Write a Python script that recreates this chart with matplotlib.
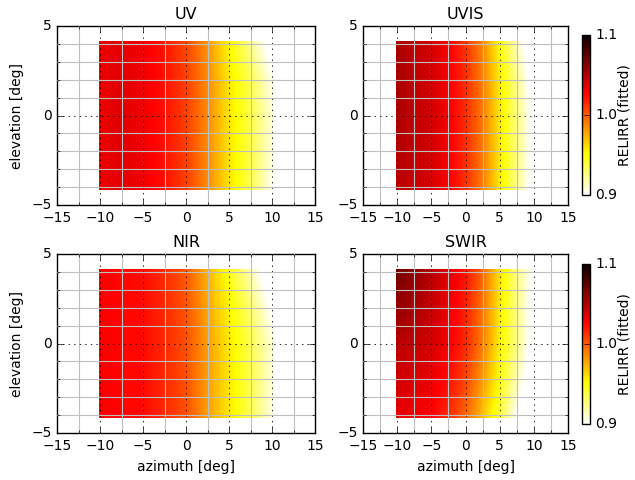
import numpy as np
import matplotlib
matplotlib.use('Agg')
import matplotlib.pyplot as plt
from matplotlib.patches import Rectangle
from matplotlib.ticker import MultipleLocator

plt.style.use('classic')

# grid nodes of the fitted irradiance model
azimuth = [-10.0, -7.5, -5.0, -2.5, 0.0, 2.5, 5.0, 7.5, 10.0]
elevation = [-4.0, -2.0, 0.0, 2.0, 4.0]

# RELIRR (fitted), one row per elevation node, one column per azimuth node
relirr_uv = [
    [1.032, 1.035, 1.031, 1.022, 1.008, 0.985, 0.958, 0.935, 0.902],
    [1.032, 1.036, 1.031, 1.022, 1.008, 0.985, 0.958, 0.936, 0.907],
    [1.032, 1.036, 1.031, 1.022, 1.008, 0.985, 0.958, 0.936, 0.907],
    [1.032, 1.036, 1.031, 1.022, 1.008, 0.985, 0.957, 0.934, 0.903],
    [1.031, 1.035, 1.030, 1.021, 1.006, 0.982, 0.952, 0.922, 0.890],
]
relirr_uvis = [
    [1.047, 1.043, 1.038, 1.029, 1.013, 0.990, 0.957, 0.924, 0.892],
    [1.049, 1.045, 1.040, 1.030, 1.014, 0.991, 0.958, 0.926, 0.895],
    [1.051, 1.045, 1.040, 1.030, 1.014, 0.991, 0.958, 0.926, 0.895],
    [1.052, 1.046, 1.040, 1.030, 1.014, 0.990, 0.957, 0.923, 0.891],
    [1.052, 1.046, 1.040, 1.029, 1.012, 0.987, 0.951, 0.914, 0.882],
]
relirr_nir = [
    [1.028, 1.026, 1.024, 1.015, 1.003, 0.979, 0.957, 0.934, 0.905],
    [1.028, 1.026, 1.024, 1.015, 1.003, 0.979, 0.957, 0.935, 0.908],
    [1.028, 1.026, 1.024, 1.015, 1.003, 0.979, 0.957, 0.935, 0.908],
    [1.028, 1.026, 1.024, 1.015, 1.002, 0.977, 0.953, 0.928, 0.898],
    [1.027, 1.025, 1.023, 1.014, 1.000, 0.973, 0.945, 0.915, 0.880],
]
relirr_swir = [
    [1.034, 1.031, 1.027, 1.015, 0.997, 0.970, 0.940, 0.900, 0.875],
    [1.040, 1.038, 1.033, 1.023, 1.007, 0.981, 0.950, 0.915, 0.885],
    [1.047, 1.045, 1.040, 1.030, 1.015, 0.990, 0.955, 0.925, 0.892],
    [1.058, 1.053, 1.044, 1.033, 1.018, 0.993, 0.957, 0.925, 0.894],
    [1.068, 1.060, 1.048, 1.036, 1.021, 0.997, 0.960, 0.925, 0.898],
]

bands = ['UV', 'UVIS', 'NIR', 'SWIR']
fits = [relirr_uv, relirr_uvis, relirr_nir, relirr_swir]

fig = plt.figure(figsize=(6.35, 4.8), dpi=100, facecolor='w')
rects = [
    [0.0898, 0.5729, 0.4063, 0.3729],
    [0.5717, 0.5729, 0.3228, 0.3729],
    [0.0898, 0.0979, 0.4063, 0.3729],
    [0.5717, 0.0979, 0.3228, 0.3729],
]
cbar_rects = {1: [0.9165, 0.5938, 0.0126, 0.3333],
              3: [0.9165, 0.1167, 0.0126, 0.3333]}

# node spacing -> image extent (nodes are pixel centres)
daz = azimuth[1] - azimuth[0]
delv = elevation[1] - elevation[0]
extent = [azimuth[0] - daz / 2, azimuth[-1] + daz / 2,
          elevation[0] - delv / 2, elevation[-1] + delv / 2]
pad = 0.15  # footprint overhang of the sample points

for i, (band, fit) in enumerate(zip(bands, fits)):
    ax = fig.add_axes(rects[i])
    im = ax.imshow(np.array(fit), cmap='hot_r', vmin=0.9, vmax=1.1,
                   origin='lower', extent=extent, aspect='auto',
                   interpolation='bilinear', interpolation_stage='data')
    clip = Rectangle((azimuth[0] - pad, elevation[0] - pad),
                     azimuth[-1] - azimuth[0] + pad,
                     elevation[-1] - elevation[0] + 2 * pad,
                     transform=ax.transData)
    im.set_clip_path(clip)
    ax.set_xlim(-15, 15)
    ax.set_ylim(-5, 5)
    ax.xaxis.set_major_locator(MultipleLocator(5))
    ax.xaxis.set_minor_locator(MultipleLocator(2.5))
    ax.yaxis.set_major_locator(MultipleLocator(5))
    ax.yaxis.set_minor_locator(MultipleLocator(1))
    ax.grid(True, which='minor', color='0.75', linestyle='-', linewidth=0.8)
    ax.grid(True, which='major', color='k', linestyle=':', linewidth=0.6)
    ax.tick_params(labelsize=10)
    ax.set_title(band, fontsize=11.5)
    if i % 2 == 0:
        ax.set_ylabel('elevation [deg]', fontsize=10)
    if i >= 2:
        ax.set_xlabel('azimuth [deg]', fontsize=10)
    if i in cbar_rects:
        cax = fig.add_axes(cbar_rects[i])
        cb = fig.colorbar(im, cax=cax, ticks=[0.9, 1.0, 1.1])
        cb.ax.tick_params(labelsize=10)
        cb.set_label('RELIRR (fitted)', fontsize=10, labelpad=0)

fig.savefig('out.png', dpi=100, facecolor='w')
